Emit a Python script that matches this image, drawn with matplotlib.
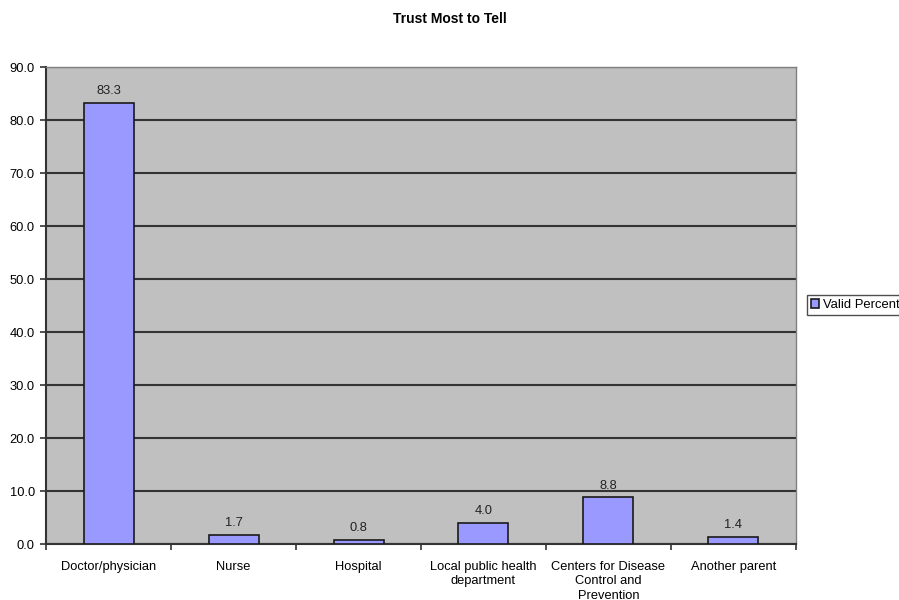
import numpy as np
import matplotlib
matplotlib.use("Agg")
import matplotlib.pyplot as plt

plt.rcParams["font.family"] = ["Liberation Sans", "DejaVu Sans"]

# =========================
# Data
# =========================
categories = [
    "Doctor/physician",
    "Nurse",
    "Hospital",
    "Local public health\ndepartment",
    "Centers for Disease\nControl and\nPrevention",
    "Another parent",
]
valid_percent = [83.3, 1.7, 0.8, 4.0, 8.8, 1.4]
y_ticks = [0, 10, 20, 30, 40, 50, 60, 70, 80, 90]

# =========================
# Figure
# =========================
fig = plt.figure(figsize=(8.99, 6.0), dpi=100)
ax = fig.add_axes([0.0512, 0.0933, 0.8342, 0.795])
ax.set_facecolor("#C0C0C0")

x = np.arange(len(categories))
bars = ax.bar(x, valid_percent, width=0.4, color="#9999FF",
              edgecolor="#1a1a1a", linewidth=1.2, label="Valid Percent", zorder=3)

for bar, v in zip(bars, valid_percent):
    ax.text(bar.get_x() + bar.get_width() / 2, v + 1.1, f"{v:.1f}",
            ha="center", va="bottom", fontsize=9.3, color="#222222")

ax.set_xlim(-0.5, len(categories) - 0.5)
ax.set_ylim(0, 90)
ax.set_yticks(y_ticks)
ax.set_yticklabels([f"{t:.1f}" for t in y_ticks], fontsize=9.3)
ax.yaxis.grid(True, color="#333333", linewidth=1.5, zorder=1)
ax.set_axisbelow(True)

# category labels sit between the tick marks
ax.set_xticks(np.arange(len(categories) + 1) - 0.5)
ax.set_xticklabels([])
ax.set_xticks(x, minor=True)
ax.set_xticklabels(categories, minor=True, fontsize=9.3, va="top", linespacing=1.28)
ax.tick_params(axis="x", which="minor", length=0, pad=12)
ax.tick_params(axis="x", which="major", length=4, width=1.2, color="#333333", direction="out")
ax.tick_params(axis="y", length=4, width=1.2, color="#333333", direction="out", pad=4)

for side in ["left", "bottom"]:
    ax.spines[side].set_color("#333333")
    ax.spines[side].set_linewidth(1.5)
for side in ["top", "right"]:
    ax.spines[side].set_color("#808080")
    ax.spines[side].set_linewidth(1.0)

fig.text(0.5, 0.968, "Trust Most to Tell", ha="center", va="center",
         fontsize=10, fontweight="bold")

leg = fig.legend(loc="center left", bbox_to_anchor=(0.8977, 0.4917), fontsize=9.4,
                 frameon=True, fancybox=False, edgecolor="#222222",
                 handlelength=0.6, handleheight=0.6, handletextpad=0.35,
                 borderpad=0.3, borderaxespad=0)
leg.get_frame().set_linewidth(1.0)

fig.savefig("out.png", dpi=100)
